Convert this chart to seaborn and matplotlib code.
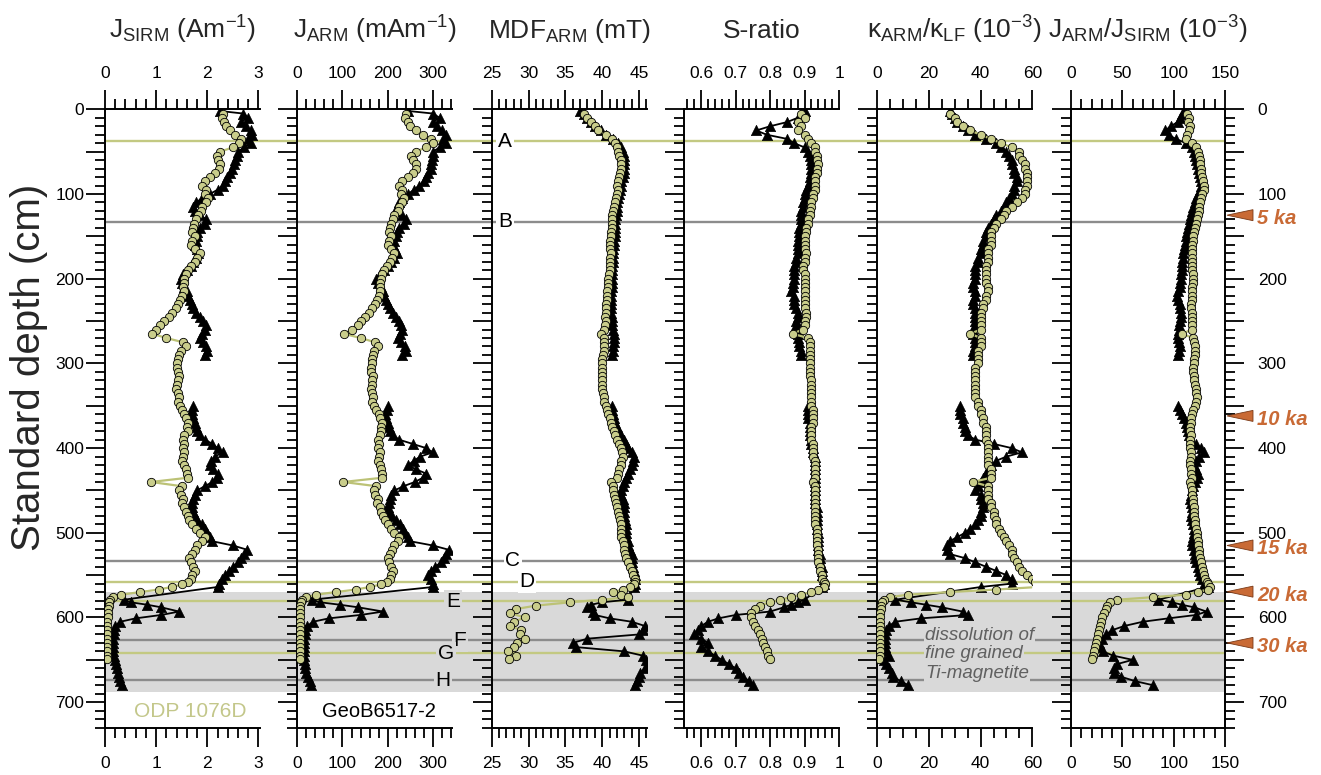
import numpy as np
import pandas as pd
import matplotlib
matplotlib.use("Agg")
import matplotlib.pyplot as plt
import seaborn as sns
from matplotlib.ticker import MultipleLocator, FuncFormatter
from matplotlib.patches import Polygon
from matplotlib.transforms import blended_transform_factory

sns.set_theme(style="ticks")
plt.rcParams['font.family'] = ['Liberation Sans', 'DejaVu Sans']
plt.rcParams['mathtext.fontset'] = 'custom'
plt.rcParams['mathtext.rm'] = 'Liberation Sans'
plt.rcParams['mathtext.it'] = 'Liberation Sans:italic'
plt.rcParams['mathtext.bf'] = 'Liberation Sans:bold'

# ---------------- ODP 1076D ----------------
odp_depth = [5, 10, 15, 20, 25, 30, 35, 40, 45, 50,
             55, 60, 65, 70, 75, 80, 85, 90, 95, 100,
             105, 110, 115, 120, 125, 130, 135, 140, 145, 150,
             155, 160, 165, 170, 175, 180, 185, 190, 195, 200,
             205, 210, 215, 220, 225, 230, 235, 240, 245, 250,
             255, 260, 265, 270, 275, 280, 285, 290, 295, 300,
             305, 310, 315, 320, 325, 330, 335, 340, 345, 350,
             355, 360, 365, 370, 375, 380, 385, 390, 395, 400,
             405, 410, 415, 420, 425, 430, 435, 440, 445, 450,
             455, 460, 465, 470, 475, 480, 485, 490, 495, 500,
             505, 510, 515, 520, 525, 530, 535, 540, 545, 550,
             555, 558, 561, 564, 567, 570, 573, 576, 579, 582,
             586, 590, 595, 600, 605, 610, 615, 620, 625, 630,
             635, 640, 645, 649]
odp_jsirm = [2.30, 2.28, 2.33, 2.37, 2.45, 2.55, 2.66, 2.62, 2.50, 2.25,
             2.18, 2.20, 2.25, 2.22, 2.15, 2.05, 1.95, 1.90, 1.98, 1.95,
             2.02, 1.98, 1.90, 1.88, 1.82, 1.78, 1.74, 1.72, 1.70, 1.75,
             1.70, 1.68, 1.75, 1.85, 1.80, 1.75, 1.68, 1.62, 1.58, 1.55,
             1.55, 1.52, 1.55, 1.50, 1.46, 1.42, 1.38, 1.30, 1.25, 1.15,
             1.08, 1.00, 0.92, 1.20, 1.52, 1.58, 1.48, 1.45, 1.42, 1.40,
             1.40, 1.42, 1.45, 1.43, 1.40, 1.38, 1.42, 1.45, 1.43, 1.46,
             1.50, 1.55, 1.58, 1.62, 1.60, 1.62, 1.55, 1.52, 1.55, 1.52,
             1.55, 1.52, 1.50, 1.55, 1.58, 1.60, 1.62, 0.90, 1.50, 1.45,
             1.48, 1.52, 1.50, 1.55, 1.58, 1.62, 1.65, 1.70, 1.78, 1.85,
             1.95, 1.90, 1.80, 1.75, 1.70, 1.65, 1.68, 1.72, 1.75, 1.70,
             1.68, 1.62, 1.50, 1.30, 1.05, 0.68, 0.32, 0.16, 0.10, 0.08,
             0.07, 0.06, 0.05, 0.05, 0.04, 0.04, 0.04, 0.04, 0.04, 0.04,
             0.04, 0.04, 0.04, 0.04]
odp_jarm = [240, 238, 245, 250, 262, 278, 295, 300, 285, 262,
            252, 255, 262, 262, 255, 245, 232, 225, 232, 230,
            236, 232, 225, 222, 215, 212, 208, 205, 204, 208,
            204, 200, 208, 215, 210, 205, 198, 192, 188, 185,
            184, 182, 184, 180, 176, 172, 166, 158, 150, 142,
            135, 122, 103, 140, 172, 178, 170, 168, 166, 165,
            162, 164, 168, 166, 165, 163, 165, 168, 166, 170,
            175, 180, 182, 188, 185, 186, 182, 178, 180, 178,
            182, 180, 178, 182, 185, 187, 188, 102, 175, 170,
            172, 178, 176, 182, 186, 190, 195, 200, 208, 215,
            225, 222, 215, 210, 205, 200, 204, 208, 212, 208,
            205, 198, 185, 160, 130, 85, 42, 20, 11, 8,
            7, 6, 6, 5, 5, 5, 5, 5, 5, 5,
            5, 5, 5, 5]
odp_mdf = [37.5, 38.0, 38.5, 39.0, 39.5, 40.5, 41.3, 41.8, 42.0, 42.2,
           42.3, 42.5, 42.6, 42.5, 42.4, 42.3, 42.2, 42.0, 42.1, 42.0,
           41.9, 41.8, 41.6, 41.5, 41.4, 41.3, 41.3, 41.3, 41.2, 41.2,
           41.1, 41.0, 41.1, 41.2, 41.1, 41.0, 41.0, 41.0, 40.9, 40.8,
           40.8, 40.8, 40.7, 40.7, 40.6, 40.5, 40.5, 40.5, 40.4, 40.5,
           40.4, 40.3, 39.8, 40.3, 40.3, 40.2, 40.2, 40.1, 40.0, 40.0,
           40.0, 40.0, 40.0, 40.0, 40.0, 40.0, 40.1, 40.2, 40.3, 40.5,
           40.7, 40.8, 41.0, 41.2, 41.4, 41.6, 41.8, 42.0, 42.3, 42.5,
           42.7, 42.8, 42.6, 42.5, 42.3, 42.2, 42.0, 41.2, 41.5, 41.5,
           41.6, 41.8, 41.9, 42.0, 42.1, 42.3, 42.4, 42.5, 42.5, 42.5,
           42.6, 42.8, 42.9, 43.0, 43.1, 43.2, 43.5, 43.8, 44.0, 44.2,
           44.4, 44.5, 44.3, 43.8, 42.8, 41.5, 42.5, 43.5, 40.0, 35.7,
           31.0, 28.3, 27.5, 29.5, 28.0, 27.5, 29.0, 28.8, 29.5, 28.5,
           28.0, 27.2, 28.3, 27.3]
odp_sratio = [0.89, 0.90, 0.88, 0.89, 0.88, 0.90, 0.91, 0.92, 0.93, 0.93,
              0.935, 0.935, 0.94, 0.935, 0.935, 0.93, 0.93, 0.93, 0.93, 0.925,
              0.925, 0.92, 0.92, 0.915, 0.915, 0.91, 0.91, 0.905, 0.905, 0.90,
              0.90, 0.90, 0.90, 0.905, 0.90, 0.90, 0.895, 0.895, 0.90, 0.90,
              0.90, 0.90, 0.90, 0.90, 0.90, 0.90, 0.90, 0.905, 0.905, 0.90,
              0.90, 0.895, 0.865, 0.91, 0.915, 0.915, 0.915, 0.915, 0.915, 0.915,
              0.915, 0.915, 0.915, 0.92, 0.92, 0.92, 0.92, 0.92, 0.92, 0.92,
              0.925, 0.925, 0.925, 0.925, 0.92, 0.92, 0.92, 0.92, 0.925, 0.925,
              0.925, 0.925, 0.93, 0.93, 0.93, 0.93, 0.93, 0.925, 0.93, 0.93,
              0.93, 0.93, 0.93, 0.93, 0.93, 0.93, 0.93, 0.93, 0.935, 0.935,
              0.935, 0.935, 0.935, 0.94, 0.94, 0.94, 0.94, 0.945, 0.945, 0.95,
              0.95, 0.955, 0.96, 0.955, 0.94, 0.92, 0.89, 0.86, 0.83, 0.80,
              0.77, 0.755, 0.745, 0.745, 0.75, 0.755, 0.765, 0.77, 0.775, 0.78,
              0.785, 0.79, 0.795, 0.80]
odp_kappa = [28, 30, 31, 33, 36, 40, 44, 48, 52, 55,
             55, 56, 57, 57, 58, 58, 58, 58, 57, 57,
             56, 54, 52, 50, 49, 48, 46, 45, 44, 44,
             44, 44, 43, 43, 43, 43, 42, 42, 42, 42,
             42, 43, 43, 42, 42, 41, 41, 40, 40, 40,
             40, 40, 36, 40, 40, 40, 39, 39, 39, 39,
             38, 38, 38, 38, 38, 38, 38, 38, 39, 39,
             40, 40, 41, 41, 42, 42, 42, 42, 43, 43,
             43, 43, 43, 43, 44, 44, 44, 37, 43, 43,
             43, 43, 44, 44, 45, 45, 46, 46, 47, 48,
             49, 50, 51, 52, 52, 53, 54, 55, 56, 58,
             60, 61, 62, 62, 46, 28, 12, 5, 2.5, 1.8,
             1.5, 1.3, 1.2, 1.0, 1.0, 1.0, 1.0, 1.0, 1.0, 1.0,
             1.0, 1.0, 1.0, 0.8]
odp_ratio = [113, 115, 114, 116, 115, 113, 112, 118, 122, 124,
             125, 126, 126, 127, 127, 128, 129, 130, 130, 128,
             127, 126, 125, 125, 124, 123, 122, 121, 120, 119,
             119, 118, 118, 118, 118, 118, 118, 118, 119, 119,
             119, 118, 118, 118, 118, 117, 117, 118, 118, 118,
             118, 118, 108, 119, 120, 121, 121, 121, 120, 120,
             119, 119, 120, 120, 121, 122, 122, 123, 122, 121,
             119, 118, 117, 117, 116, 116, 117, 116, 116, 116,
             117, 117, 116, 116, 117, 117, 118, 116, 117, 118,
             118, 119, 119, 120, 120, 120, 121, 121, 122, 123,
             123, 124, 124, 125, 125, 126, 127, 128, 129, 130,
             131, 132, 133, 135, 133, 124, 112, 80, 45, 38,
             35, 34, 32, 30, 29, 28, 27, 26, 25, 24,
             23, 22, 21, 20]

# ---------------- GeoB6517-2 ----------------
geo_depth = [2, 5, 10, 15, 20, 25, 30, 35, 40, 45,
             50, 55, 60, 65, 70, 75, 80, 85, 90, 95,
             100, 105, 110, 115, 120, 125, 130, 135, 140, 145,
             150, 155, 160, 165, 170, 175, 180, 185, 190, 195,
             200, 205, 210, 215, 220, 225, 230, 235, 240, 245,
             250, 255, 260, 265, 270, 275, 280, 285, 290, 350,
             355, 360, 365, 370, 375, 380, 385, 390, 395, 400,
             405, 410, 415, 420, 425, 430, 435, 440, 445, 450,
             455, 460, 465, 470, 475, 480, 485, 490, 495, 500,
             505, 510, 515, 520, 525, 530, 535, 540, 545, 550,
             555, 560, 564, 579, 582, 585, 588, 593, 597, 601,
             605, 610, 615, 620, 625, 630, 635, 640, 645, 650,
             655, 660, 665, 670, 675, 680]
geo_jsirm = [2.25, 2.70, 2.80, 2.65, 2.75, 2.85, 2.88, 2.80, 2.85, 2.72,
             2.60, 2.58, 2.55, 2.52, 2.48, 2.45, 2.38, 2.35, 2.30, 2.20,
             2.05, 1.90, 1.78, 1.72, 1.75, 1.85, 1.98, 1.95, 1.85, 1.80,
             1.80, 1.78, 1.75, 1.80, 1.82, 1.78, 1.72, 1.68, 1.60, 1.52,
             1.48, 1.50, 1.55, 1.60, 1.62, 1.66, 1.70, 1.72, 1.78, 1.85,
             1.92, 1.98, 1.95, 1.90, 1.85, 1.92, 1.98, 2.00, 1.95, 1.72,
             1.70, 1.70, 1.72, 1.75, 1.78, 1.80, 1.85, 1.95, 2.10, 2.20,
             2.30, 2.15, 2.08, 2.05, 2.12, 2.20, 2.18, 2.10, 1.95, 1.80,
             1.75, 1.72, 1.70, 1.70, 1.72, 1.75, 1.80, 1.90, 1.95, 2.00,
             2.05, 2.10, 2.50, 2.78, 2.72, 2.65, 2.60, 2.50, 2.42, 2.35,
             2.28, 2.22, 2.20, 0.37, 0.50, 0.83, 1.10, 1.45, 1.10, 0.60,
             0.30, 0.20, 0.18, 0.17, 0.16, 0.16, 0.15, 0.15, 0.18, 0.20,
             0.22, 0.24, 0.26, 0.28, 0.30, 0.33]
geo_jarm = [246, 300, 315, 300, 310, 320, 330, 322, 328, 315,
            300, 300, 298, 296, 295, 290, 285, 280, 270, 258,
            245, 232, 225, 220, 222, 232, 240, 236, 225, 220,
            218, 215, 212, 216, 220, 215, 208, 200, 192, 182,
            175, 178, 185, 190, 192, 196, 200, 205, 212, 218,
            225, 230, 232, 228, 222, 230, 238, 240, 232, 200,
            198, 195, 196, 200, 203, 205, 212, 225, 255, 285,
            300, 272, 258, 245, 262, 285, 278, 260, 235, 215,
            208, 205, 202, 200, 204, 210, 218, 228, 233, 238,
            244, 250, 300, 335, 330, 325, 318, 305, 295, 290,
            295, 300, 300, 32, 50, 95, 135, 190, 140, 70,
            35, 22, 18, 16, 15, 14, 14, 15, 14, 15,
            17, 18, 20, 24, 27, 30]
geo_mdf = [37.0, 37.5, 38.0, 38.5, 39.0, 39.8, 40.5, 41.5, 42.2, 42.5,
           42.8, 42.9, 43.0, 43.0, 43.0, 42.9, 42.8, 42.6, 42.5, 42.4,
           42.3, 42.1, 42.0, 42.0, 42.0, 41.9, 41.8, 41.8, 41.8, 41.7,
           41.7, 41.6, 41.6, 41.5, 41.5, 41.5, 41.5, 41.4, 41.4, 41.3,
           41.3, 41.3, 41.3, 41.2, 41.2, 41.2, 41.2, 41.2, 41.2, 41.3,
           41.3, 41.4, 41.5, 41.6, 41.6, 41.6, 41.5, 41.5, 41.4, 41.3,
           41.4, 41.5, 41.6, 41.8, 42.0, 42.2, 42.5, 43.0, 43.2, 43.5,
           44.0, 44.3, 44.2, 44.0, 43.8, 43.5, 43.2, 43.0, 42.8, 42.5,
           42.6, 42.8, 42.9, 43.0, 43.0, 43.0, 43.1, 43.2, 43.2, 43.2,
           43.3, 43.5, 43.5, 43.8, 44.0, 44.0, 44.1, 44.2, 44.3, 44.5,
           44.5, 44.5, 44.3, 43.5, 40.0, 38.5, 38.0, 38.8, 39.0, 41.0,
           44.0, 45.8, 45.5, 45.0, 38.0, 36.0, 36.5, 43.0, 45.5, 46.0,
           46.3, 45.8, 45.2, 45.0, 44.8, 44.5]
geo_sratio = [0.90, 0.89, 0.88, 0.85, 0.80, 0.76, 0.79, 0.85, 0.87, 0.90,
              0.91, 0.915, 0.92, 0.92, 0.92, 0.92, 0.915, 0.915, 0.91, 0.905,
              0.90, 0.90, 0.895, 0.895, 0.89, 0.89, 0.89, 0.89, 0.885, 0.885,
              0.885, 0.88, 0.88, 0.88, 0.88, 0.875, 0.875, 0.87, 0.87, 0.87,
              0.87, 0.865, 0.865, 0.86, 0.87, 0.87, 0.87, 0.875, 0.88, 0.88,
              0.875, 0.875, 0.88, 0.88, 0.88, 0.885, 0.885, 0.89, 0.89, 0.91,
              0.91, 0.91, 0.91, 0.915, 0.915, 0.915, 0.915, 0.92, 0.92, 0.925,
              0.925, 0.93, 0.93, 0.93, 0.93, 0.93, 0.93, 0.93, 0.93, 0.93,
              0.93, 0.93, 0.93, 0.935, 0.935, 0.935, 0.935, 0.935, 0.935, 0.94,
              0.94, 0.94, 0.94, 0.94, 0.945, 0.945, 0.945, 0.95, 0.95, 0.95,
              0.955, 0.955, 0.95, 0.90, 0.88, 0.86, 0.84, 0.80, 0.70, 0.65,
              0.62, 0.60, 0.59, 0.58, 0.60, 0.62, 0.60, 0.62, 0.64, 0.66,
              0.68, 0.70, 0.71, 0.72, 0.74, 0.75]
geo_kappa = [28, 29, 30, 31, 33, 35, 38, 42, 46, 48,
             50, 51, 52, 52, 53, 53, 54, 54, 53, 53,
             52, 51, 50, 49, 48, 46, 45, 44, 43, 42,
             42, 41, 41, 40, 40, 39, 39, 38, 38, 38,
             38, 37, 37, 38, 38, 37, 37, 38, 38, 38,
             38, 38, 37, 37, 38, 38, 38, 37, 37, 32,
             32, 32, 33, 33, 34, 34, 35, 38, 45, 52,
             56, 50, 46, 44, 43, 42, 41, 40, 39, 38,
             40, 40, 41, 41, 40, 40, 39, 38, 36, 34,
             31, 28, 27, 27, 28, 34, 38, 42, 46, 50,
             52, 52, 40, 7, 13, 19, 25, 33, 35, 17,
             7, 4.5, 3.2, 3.0, 3.0, 3.0, 3.0, 3.2, 4.5, 2.5,
             3.5, 4.5, 5.5, 6.0, 9.0, 12.0]
geo_ratio = [110, 108, 106, 104, 97, 92, 95, 102, 112, 118,
             120, 121, 122, 123, 124, 125, 126, 127, 127, 126,
             124, 122, 121, 119, 118, 117, 116, 115, 114, 113,
             112, 112, 111, 110, 109, 109, 108, 108, 108, 107,
             107, 106, 106, 104, 103, 104, 106, 106, 107, 107,
             106, 105, 105, 104, 104, 105, 106, 105, 104, 104,
             106, 108, 110, 112, 113, 114, 115, 117, 122, 127,
             130, 125, 122, 120, 122, 124, 123, 121, 119, 118,
             117, 116, 117, 118, 118, 117, 118, 119, 120, 120,
             119, 118, 118, 120, 121, 121, 122, 124, 125, 126,
             128, 130, 133, 85, 98, 108, 120, 132, 122, 95,
             70, 52, 40, 34, 30, 27, 28, 31, 41, 60,
             45, 42, 42, 49, 62, 80]

# marker horizons (cm) and their style: 'g' olive, 'k' grey
horizon_depth = [38, 133, 533, 558, 581, 627, 642, 674]
horizon_kind = ['g', 'k', 'k', 'g', 'g', 'k', 'g', 'k']
horizon_name = ['A', 'B', 'C', 'D', 'E', 'F', 'G', 'H']
dissolution_zone = (569.5, 688)

age_depth = [125, 362, 515, 569.5, 630]
age_label = ['5 ka', '10 ka', '15 ka', '20 ka', '30 ka']

odp = pd.DataFrame({'depth': odp_depth, 'jsirm': odp_jsirm, 'jarm': odp_jarm,
                    'mdf': odp_mdf, 'sratio': odp_sratio, 'kappa': odp_kappa,
                    'ratio': odp_ratio})
geo = pd.DataFrame({'depth': geo_depth, 'jsirm': geo_jsirm, 'jarm': geo_jarm,
                    'mdf': geo_mdf, 'sratio': geo_sratio, 'kappa': geo_kappa,
                    'ratio': geo_ratio})
# core gap between 290 and 350 cm splits the GeoB record into two runs
geo['run'] = np.where(geo['depth'] > 320, 1, 0)

OLIVE_FILL = '#c9cd8b'
OLIVE_LINE = '#bcc276'
HOR_OLIVE = '#c3c982'
HOR_GREY = '#8c8c8c'
SHADE = '#d9d9d9'
AGE = '#c96a35'

panels = [
    ('jsirm', (0, 3.03), 1, 0.2, r'J$_{\mathrm{SIRM}}$ (Am$^{\mathrm{-1}}$)'),
    ('jarm', (0, 343), 100, 20, r'J$_{\mathrm{ARM}}$ (mAm$^{\mathrm{-1}}$)'),
    ('mdf', (25, 46.05), 5, 1, r'MDF$_{\mathrm{ARM}}$ (mT)'),
    ('sratio', (0.55, 1.0), 0.1, 0.02, 'S-ratio'),
    ('kappa', (0, 60), 20, 5, r'κ$_{\mathrm{ARM}}$/κ$_{\mathrm{LF}}$ (10$^{\mathrm{-3}}$)'),
    ('ratio', (0, 150), 50, 10, r'J$_{\mathrm{ARM}}$/J$_{\mathrm{SIRM}}$ (10$^{\mathrm{-3}}$)'),
]

W, H = 1321, 775
TOP_PX, BOT_PX = 109.3, 727.6
YMAX = 730
lefts = [105, 297.3, 491.7, 684, 877.3, 1071]
widths = [155, 155, 155, 155, 155, 154]


def rect(left_px, width_px):
    return [left_px / W, 1 - BOT_PX / H, width_px / W, (BOT_PX - TOP_PX) / H]


fig = plt.figure(figsize=(W / 100, H / 100), dpi=100)

# background layer: dissolution zone and marker horizons across all panels
span_l, span_r = lefts[0], lefts[-1] + widths[-1]
bg = fig.add_axes(rect(span_l, span_r - span_l), zorder=0)
bg.set_xlim(0, 1)
bg.set_ylim(YMAX, 0)
bg.axis('off')
bg.axhspan(*dissolution_zone, color=SHADE, lw=0)
for d, k in zip(horizon_depth, horizon_kind):
    bg.axhline(d, color=HOR_OLIVE if k == 'g' else HOR_GREY, lw=1.7)

letter_px = [505, 505, 513, 527, 453, 460, 446, 443]
for d, name, px in zip(horizon_depth, horizon_name, letter_px):
    inside = dissolution_zone[0] <= d <= dissolution_zone[1]
    bg.text((px - span_l) / (span_r - span_l), d, name, ha='center', va='center',
            fontsize=15, color='black',
            bbox=dict(boxstyle='square,pad=0.08', fc=SHADE if inside else 'white', ec='none'))

depth_fmt = FuncFormatter(lambda v, p: f'{int(round(v))}' if round(v) % 100 == 0 else '')
val_fmt = FuncFormatter(lambda v, p: f'{v:g}')

axes = []
for i, (key, xlim, major, minor, title) in enumerate(panels):
    ax = fig.add_axes(rect(lefts[i], widths[i]), zorder=2)
    ax.patch.set_alpha(0)
    sns.lineplot(data=geo, x=key, y='depth', units='run', estimator=None, sort=False,
                 orient='y', color='black', lw=1.3, ax=ax, legend=False, zorder=3)
    sns.scatterplot(data=geo, x=key, y='depth', marker='^', s=55, color='black',
                    edgecolor='black', linewidth=0.5, ax=ax, legend=False, zorder=4)
    sns.lineplot(data=odp, x=key, y='depth', estimator=None, sort=False, orient='y',
                 color=OLIVE_LINE, lw=1.6, ax=ax, legend=False, zorder=5)
    sns.scatterplot(data=odp, x=key, y='depth', marker='o', s=36, color=OLIVE_FILL,
                    edgecolor='black', linewidth=0.6, ax=ax, legend=False, zorder=6)
    ax.set_xlim(*xlim)
    ax.set_ylim(YMAX, 0)
    ax.set_xlabel('')
    ax.set_ylabel('')
    ax.xaxis.set_major_locator(MultipleLocator(major))
    ax.xaxis.set_minor_locator(MultipleLocator(minor))
    ax.xaxis.set_major_formatter(val_fmt)
    ax.yaxis.set_major_locator(MultipleLocator(50))
    ax.yaxis.set_minor_locator(MultipleLocator(10))
    ax.yaxis.set_major_formatter(depth_fmt)
    last = i == len(panels) - 1
    for s in ['left', 'top', 'bottom', 'right']:
        ax.spines[s].set_linewidth(1.4)
        ax.spines[s].set_color('black')
    ax.spines['right'].set_visible(last)
    ax.tick_params(axis='x', which='both', top=True, bottom=True, labeltop=True,
                   labelbottom=True, direction='out', width=1.3, colors='black',
                   labelsize=12.5, pad=7)
    ax.tick_params(axis='x', which='major', length=13.5)
    ax.tick_params(axis='x', which='minor', length=7.5)
    ax.tick_params(axis='y', which='both', left=True, right=last, labelleft=(i == 0),
                   labelright=last, direction='out', width=1.3, colors='black',
                   labelsize=12.5)
    ax.tick_params(axis='y', which='major', length=13.5)
    ax.tick_params(axis='y', which='minor', length=7)
    if i == 0:
        ax.tick_params(axis='y', which='major', pad=1.5)
    if last:
        ax.tick_params(axis='y', which='major', pad=10)
    ax.annotate(title, xy=(0.5, 1), xycoords='axes fraction', xytext=(0, 71),
                textcoords='offset pixels', ha='center', va='baseline', fontsize=19)
    axes.append(ax)

axes[0].text(0.548, 711, 'ODP 1076D', transform=blended_transform_factory(axes[0].transAxes, axes[0].transData),
             ha='center', va='center', fontsize=15, color='#c3c78a')
axes[1].text(0.527, 711, 'GeoB6517-2', transform=blended_transform_factory(axes[1].transAxes, axes[1].transData),
             ha='center', va='center', fontsize=14.5, color='black')

kt = blended_transform_factory(axes[4].transAxes, axes[4].transData)
for d, line in zip([621, 643, 666], ['dissolution of', 'fine grained', 'Ti-magnetite']):
    axes[4].text(0.31, d, line, transform=kt, ha='left', va='center', fontsize=13.5,
                 style='italic', color='#606060', zorder=7,
                 bbox=dict(boxstyle='square,pad=0.05', fc=SHADE, ec='none'))

at = blended_transform_factory(axes[5].transAxes, axes[5].transData)
w6 = widths[5]
for d, lab in zip(age_depth, age_label):
    tri = Polygon([(1 + 2 / w6, d), (1 + 28 / w6, d - 6.5), (1 + 28 / w6, d + 6.5)],
                  closed=True, transform=at, clip_on=False, fc=AGE, ec='#7a3a18', lw=0.6, zorder=8)
    axes[5].add_patch(tri)
    axes[5].text(1 + 32 / w6, d + 4, lab, transform=at, ha='left', va='center', fontsize=14.5,
                 fontweight='bold', style='italic', color=AGE, clip_on=False)

fig.text(29 / W, 1 - 367 / H, 'Standard depth (cm)', rotation=90, ha='center', va='center',
         fontsize=29)

fig.savefig('out.png', dpi=100)
